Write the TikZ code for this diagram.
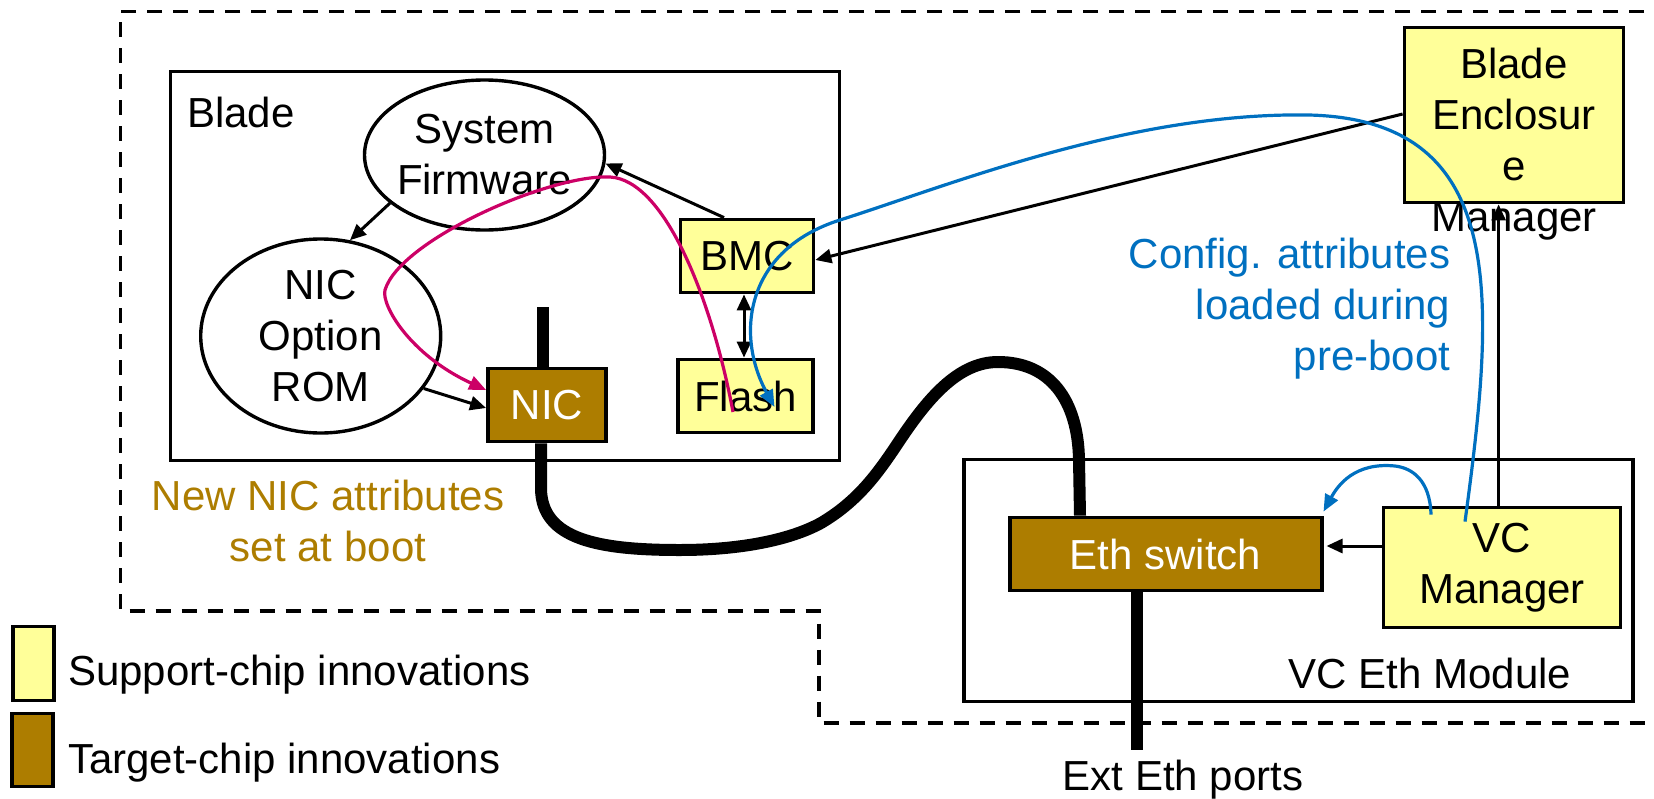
\documentclass[tikz,border=0pt]{standalone}
\usepackage{fontspec}
\setmainfont{Liberation Sans}
\usetikzlibrary{shapes.geometric,arrows.meta,backgrounds}
\definecolor{chipyellow}{HTML}{FFFF99}
\definecolor{chipbrown}{HTML}{AD7D00}
\definecolor{cfgblue}{HTML}{0070C0}
\definecolor{bootpink}{HTML}{CC0066}

\begin{document}
\begin{tikzpicture}[x=1pt,y=-1pt,
  every node/.style={font=\fontsize{42}{51}\selectfont, inner sep=0pt},
  frame/.style={draw, line width=3.3pt, rectangle},
  support/.style={draw, line width=3.8pt, fill=chipyellow, rectangle, align=center},
  target/.style={draw, line width=3.8pt, fill=chipbrown, rectangle, text=white, align=center},
  oval/.style={draw, line width=3.4pt, ellipse, align=center, inner xsep=-4pt},
  arr/.style={line width=3pt, -{Triangle[length=16pt,width=14pt]}},
  dblarr/.style={line width=3pt, {Triangle[length=16pt,width=14pt]}-{Triangle[length=16pt,width=14pt]}},
  cable/.style={line width=12pt},
  pinkarr/.style={draw=bootpink, line width=3.2pt, -{Triangle[length=17pt,width=14pt]}},
  bluearr/.style={draw=cfgblue, line width=3.2pt, -{Triangle[length=17pt,width=14pt]}},
  boundary/.style={line width=3.3pt, dash pattern=on 15pt off 11pt}
]
\useasboundingbox (0,0) rectangle (1654,798);

% outer dashed boundary
\draw[boundary] (1670,11.5) -- (120.5,11.5) -- (120.5,611) -- (819,611) -- (819,723) -- (1670,723);

% enclosing frames
\node[frame, minimum width=669pt, minimum height=389pt] (blade) at (505,266) {};
\node[anchor=base west] (bladelbl) at (187,127) {Blade};
\node[frame, minimum width=669pt, minimum height=242pt] (vcmod) at (1298.5,580.5) {};
\node[anchor=base] (vcmodlbl) at (1430,688) {VC Eth Module};

% blade internals
\node[oval, minimum width=240pt, minimum height=150pt] (sysfw) at (484.5,155) {System\\Firmware};
\node[oval, minimum width=240pt, minimum height=194pt] (rom) at (320.7,336) {NIC\\Option\\ROM};
\node[target, minimum width=118pt, minimum height=73pt] (nic) at (547,405) {NIC};
\node[support, minimum width=133pt, minimum height=73pt] (bmc) at (747,256) {BMC};
\node[support, minimum width=135pt, minimum height=73pt] (flash) at (745.5,396) {Flash};

% enclosure manager
\node[support, minimum width=219pt, minimum height=175pt] (bem) at (1514,115) {};
\node[align=center, anchor=north] (bemlbl) at (1514,48) {Blade\\Enclosur\\e\\Manager};

% VC module internals
\node[target, minimum width=312pt, minimum height=73pt] (eth) at (1165.6,554) {Eth switch};
\node[support, minimum width=237pt, minimum height=120pt] (vcm) at (1502,567.5) {VC\\Manager};
\node[anchor=base] (ext) at (1183,790) {Ext Eth ports};

% annotations
\node[align=center, anchor=north, text=chipbrown] (newnic) at (328,480) {New NIC attributes\\set at boot};
\node[align=right, anchor=north east, text=cfgblue] (cfg) at (1450.5,238) {Config. attributes\\loaded during\\pre-boot};

% legend
\node[support, line width=3.3pt, minimum width=41pt, minimum height=74pt] (legsup) at (33.6,663.4) {};
\node[anchor=base west] (legsuplbl) at (68,685) {Support-chip innovations};
\node[target, line width=3.3pt, minimum width=41pt, minimum height=73pt] (legtgt) at (32.4,749.7) {};
\node[anchor=base west] (legtgtlbl) at (68,773) {Target-chip innovations};

% thick network cables
\coordinate (nicstub) at (542.5,307);
\coordinate (portend) at (1137,750);
\begin{scope}[on background layer]
  \draw[cable] (nicstub) -- (nicstub |- nic.north);
  \draw[cable] ([xshift=-6pt]nic.south) -- (541,488)
    .. controls (541,540) and (600,550) .. (680,550)
    .. controls (740,550) and (790,540) .. (821,523)
    .. controls (860,500) and (880,470) .. (900,440)
    .. controls (930,395) and (960,362) .. (998,362)
    .. controls (1050,362) and (1078,400) .. (1079,460)
    -- ([xshift=-85.6pt]eth.north);
  \draw[cable] ([xshift=-28.6pt]eth.south) -- (portend);
\end{scope}

% control connectors
\draw[arr] ([xshift=-23pt]bmc.north) -- (sysfw.-4);
\draw[arr] (sysfw.207) -- (rom.73);
\draw[arr] (rom.-27) -- ([yshift=-3pt]nic.west);
\draw[arr] ([yshift=1pt]bem.west) -- ([yshift=-4pt]bmc.east);
\draw[dblarr] ([xshift=-3pt]bmc.south) -- ([xshift=-1.5pt]flash.north);
\draw[arr, line width=2.6pt] ([xshift=-3.4pt]vcm.north) -- ([xshift=-3.4pt]vcm.north |- bem.south);
\draw[arr, shorten >=3pt] ([yshift=21.5pt]vcm.west) -- ([yshift=21.5pt]vcm.west -| eth.east);

% boot-time attribute flow
\draw[pinkarr] ([xshift=-12.5pt,yshift=-16pt]flash.center)
  .. controls (712,300) and (665,180) .. (610,177)
  .. controls (550,174) and (400,240) .. (385,290)
  .. controls (381,305) and (410,355) .. ([yshift=15pt]nic.west);

% pre-boot configuration flow
\draw[bluearr] ([xshift=-37pt,yshift=-16pt]vcm.north)
  .. controls (1495,300) and (1510,120) .. (1309,115)
  .. controls (1130,112) and (950,185) .. (840,220)
  .. controls (745,250) and (735,335) .. ([xshift=29pt,yshift=-11pt]flash.center);
\draw[bluearr] ([xshift=-71pt,yshift=-9pt]vcm.north)
  .. controls (1430,480) and (1412,468) .. (1395,466)
  .. controls (1355,462) and (1338,485) .. ([yshift=4pt]eth.north east);
\end{tikzpicture}
\end{document}
